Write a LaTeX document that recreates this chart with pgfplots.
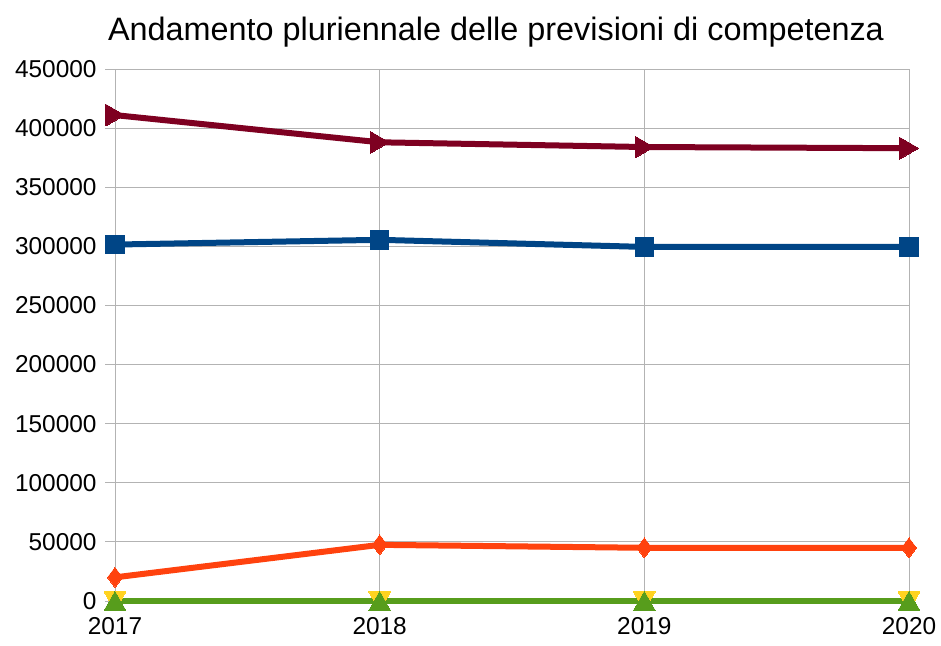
\documentclass[border=0pt]{standalone}
\usepackage{fontspec}
\setmainfont{Liberation Sans}
\usepackage{pgfplots}
\pgfplotsset{compat=1.18}
\definecolor{cblue}{HTML}{004586}
\definecolor{corange}{HTML}{FF420E}
\definecolor{cyellow}{HTML}{FFD320}
\definecolor{cgreen}{HTML}{579D1C}
\definecolor{cred}{HTML}{7E0021}
\definecolor{gridgray}{HTML}{B3B3B3}
\begin{document}
\begin{tikzpicture}[x=1bp,y=1bp]
\begin{axis}[
  at={(0,0)}, anchor=south west,
  scale only axis, width=794bp, height=532bp,
  xmin=2017, xmax=2020, ymin=0, ymax=450000,
  xtick={2017,2018,2019,2020}, ytick={0,50000,...,450000},
  grid=major, grid style={color=gridgray, line width=0.8bp},
  axis line style={color=gridgray, line width=0.8bp},
  tick style={color=gridgray, line width=0.8bp},
  tick align=outside, major tick length=10bp, tick pos=left,
  scaled y ticks=false, scaled x ticks=false,
  ticklabel style={font=\fontsize{24.5}{28}\selectfont, text=black},
  xticklabel style={yshift=-3bp},
  yticklabel style={xshift=-5bp},
  clip=false,
  every axis plot/.append style={line width=6bp},
  /pgf/number format/fixed,
  /pgf/number format/1000 sep={},
  /pgf/number format/assume math mode=true,
]
\addplot[color=cblue, mark=square*, mark size=9.3bp, mark options={line width=0bp}]
  coordinates {(2017,301500) (2018,305500) (2019,299500) (2020,299500)};
\addplot[color=corange, mark=diamond*, mark size=10bp, mark options={line width=0bp}]
  coordinates {(2017,20000) (2018,47500) (2019,45000) (2020,45000)};
\addplot[color=cyellow, mark=triangle*, mark size=12.5bp, mark options={line width=0bp, rotate=180, yshift=-3bp}]
  coordinates {(2017,0) (2018,0) (2019,0) (2020,0)};
\addplot[color=cgreen, mark=triangle*, mark size=12.5bp, mark options={line width=0bp, yshift=-3bp}]
  coordinates {(2017,0) (2018,0) (2019,0) (2020,0)};
\addplot[color=cred, mark=triangle*, mark size=12.5bp, mark options={line width=0bp, rotate=-90, yshift=-3bp}]
  coordinates {(2017,411000) (2018,388000) (2019,384000) (2020,383000)};
\end{axis}
\node[anchor=base, font=\fontsize{32.5}{38}\selectfont] at (381bp,560bp) {Andamento pluriennale delle previsioni di competenza};
\pgfresetboundingbox
\path[use as bounding box] (-115bp,-45bp) rectangle (826bp,601bp);
\end{tikzpicture}
\end{document}
